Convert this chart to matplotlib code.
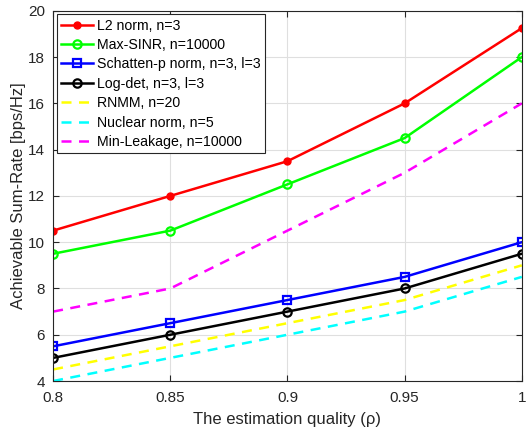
import matplotlib
matplotlib.use('Agg')
import matplotlib.pyplot as plt

plt.rcParams['font.family'] = ['Liberation Sans', 'DejaVu Sans']

rho = [0.8, 0.85, 0.9, 0.95, 1.0]
l2_norm = [10.5, 12, 13.5, 16, 19.25]
max_sinr = [9.5, 10.5, 12.5, 14.5, 18]
schatten = [5.5, 6.5, 7.5, 8.5, 10]
log_det = [5, 6, 7, 8, 9.5]
rnmm = [4.5, 5.5, 6.5, 7.5, 9]
nuclear = [4, 5, 6, 7, 8.5]
min_leak = [7, 8, 10.5, 13, 16]

fig = plt.figure(figsize=(5.26, 4.32), dpi=100)
ax = fig.add_axes([0.101, 0.118, 0.891, 0.857])

lw = 1.8
ax.plot(rho, l2_norm, color='red', lw=lw, marker='o', ms=5, label='L2 norm, n=3')
ax.plot(rho, max_sinr, color='#00ff00', lw=lw, marker='o', ms=6, mfc='none', mew=1.6,
        label='Max-SINR, n=10000')
ax.plot(rho, schatten, color='blue', lw=lw, marker='s', ms=5.5, mfc='none', mew=1.6,
        label='Schatten-p norm, n=3, l=3')
ax.plot(rho, log_det, color='black', lw=lw, marker='o', ms=6, mfc='none', mew=1.6,
        label='Log-det, n=3, l=3')
ax.plot(rho, rnmm, color='yellow', lw=lw, ls=(0, (4, 3)), label='RNMM, n=20')
ax.plot(rho, nuclear, color='cyan', lw=lw, ls=(0, (4, 3)), label='Nuclear norm, n=5')
ax.plot(rho, min_leak, color='magenta', lw=lw, ls=(0, (4, 3)), label='Min-Leakage, n=10000')

ax.set_xlim(0.8, 1.0)
ax.set_ylim(4, 20)
ax.set_xticks(rho)
ax.set_xticklabels(['0.8', '0.85', '0.9', '0.95', '1'])
ax.set_yticks(range(4, 21, 2))
ax.grid(True, color='#dfdfdf', lw=0.8)
ax.set_axisbelow(True)
ax.tick_params(direction='in', labelsize=11, colors='#262626', length=4, top=True, right=True)
ax.tick_params(axis='x', pad=7)
ax.tick_params(axis='y', pad=6)
for s in ax.spines.values():
    s.set_color('#262626')
    s.set_linewidth(0.8)

ax.set_xlabel('The estimation quality (ρ)', fontsize=12, color='#262626', labelpad=5)
ax.set_ylabel('Achievable Sum-Rate [bps/Hz]', fontsize=12, color='#262626', labelpad=1)

leg = ax.legend(loc='upper left', fontsize=10.2, frameon=True, fancybox=False,
                borderaxespad=0.25, handlelength=2.25, labelspacing=0.38,
                borderpad=0.3, handletextpad=0.3)
leg.get_frame().set_edgecolor('#262626')
leg.get_frame().set_linewidth(0.8)
leg.get_frame().set_alpha(1)

plt.savefig('out.png', dpi=100)
